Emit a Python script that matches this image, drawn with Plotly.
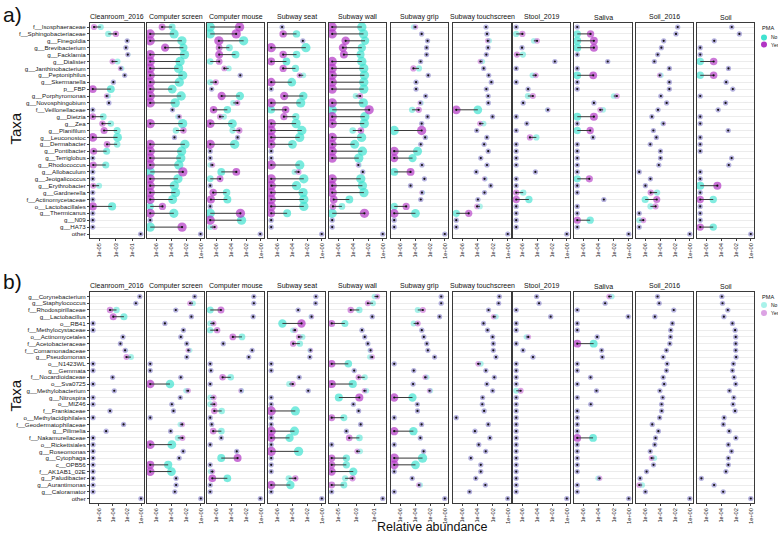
import plotly.graph_objects as go

# ---------------- data (log10 relative abundance) ----------------
FACETS = ["Cleanroom_2016", "Computer screen", "Computer mouse", "Subway seat", "Subway wall",
          "Subway grip", "Subway touchscreen", "Stool_2019", "Saliva", "Soil_2016", "Soil"]

TAXA_A = ["f__Isosphaeraceae", "f__Sphingobacteriaceae", "g__Finegoldia", "g__Brevibacterium",
          "g__Facklamia", "g__Dialister", "g__Janthinobacterium", "g__Peptoniphilus", "g__Skermanella",
          "p__FBP", "g__Porphyromonas", "g__Novosphingobium", "f__Veillonellaceae", "g__Dietzia",
          "g__Zea", "g__Planifilum", "g__Leuconostoc", "g__Dermabacter", "g__Pontibacter",
          "g__Terriglobus", "g__Rhodococcus", "g__Allobaculum", "g__Jeotgalicoccus", "g__Erythrobacter",
          "g__Gardnerella", "f__Actinomycetaceae", "o__Lactobacillales", "g__Thermicanus", "g__N09",
          "g__HA73", "other"]

TAXA_B = ["g__Corynebacterium", "g__Staphylococcus", "f__Rhodospirillaceae", "g__Lactobacillus",
          "o__RB41", "f__Methylocystaceae", "o__Actinomycetales", "f__Acetobacteraceae",
          "f__Comamonadaceae", "g__Pseudomonas", "o__N1423WL", "g__Gemmata", "f__Nocardioidaceae",
          "o__Sva0725", "g__Methylobacterium", "g__Nitrospira", "o__MIZ46", "f__Frankiaceae",
          "o__Methylacidiphilales", "f__Geodermatophilaceae", "g__Pilimelia", "f__Nakamurellaceae",
          "o__Rickettsiales", "g__Roseomonas", "g__Cytophaga", "c__OPB56", "f__AK1AB1_02E",
          "g__Paludibacter", "g__Aurantimonas", "g__Caloramator", "other"]

TICKS_STD = ["1e-06", "1e-04", "1e-02", "1e+00"]
TICKS_ODD = ["1e-05", "1e-03", "1e-01"]

# ---- panel a ----
a_cleanroom_no = [-4.8, -3.9, -1.65, -1.8, -1.55, -2.8, -2.3, -1.95, -3.3, -3.6, -3.9, -3.83, -5.75, -4.5, -3.6, -2.85, -2.8, -2.85, -4.1, -5.75, -4.2, -5.75, -5.75, -5.0, -5.75, -5.75, -3.45, -5.75, -5.75, -5.75, -0.05]
a_cleanroom_yes = [-5.6, -3.0, -1.65, -1.8, -1.58, -3.4, -2.45, -1.95, -3.3, -5.75, -4.1, -3.83, -5.75, -5.75, -4.6, -4.4, -5.75, -4.05, -5.65, -5.75, -5.7, -5.75, -5.75, -5.7, -5.75, -5.75, -5.75, -5.75, -5.75, -5.75, -0.05]
a_cscreen_no = [-3.86, -3.6, -2.55, -2.35, -2.2, -2.8, -3.0, -2.45, -2.9, -3.85, -2.65, -3.45, -3.82, -3.1, -2.45, -3.35, -3.55, -2.15, -2.59, -2.7, -2.97, -6.8, -3.08, -3.57, -3.41, -3.79, -6.8, -3.63, -6.8, -6.8, -0.05]
a_cscreen_yes = [-5.21, -6.8, -6.8, -4.8, -6.8, -6.8, -6.8, -6.8, -6.8, -6.8, -6.8, -6.8, -3.82, -2.9, -6.8, -2.35, -3.55, -6.8, -6.8, -6.8, -6.8, -2.43, -6.8, -6.8, -6.8, -6.8, -5.16, -6.8, -6.8, -2.53, -0.05]
a_cmouse_no = [-6.8, -6.8, -2.32, -4.23, -3.41, -6.8, -4.32, -2.77, -6.8, -6.6, -2.82, -3.72, -4.5, -4.95, -3.83, -3.8, -3.13, -3.52, -6.8, -6.8, -6.8, -5.32, -6.8, -6.8, -4.6, -4.5, -6.8, -6.8, -2.6, -6.8, -0.1]
a_cmouse_yes = [-2.86, -3.32, -5.64, -5.6, -5.6, -5.6, -4.91, -2.77, -6.05, -6.6, -5.27, -3.15, -6.35, -5.5, -6.8, -2.9, -3.13, -6.8, -6.8, -6.8, -6.5, -3.3, -5.48, -6.8, -6.4, -6.7, -6.8, -2.75, -6.8, -6.2, -0.1]
a_sseat_no = [-5.34, -3.41, -2.56, -2.15, -3.4, -4.76, -3.55, -2.5, -4.04, -6.8, -2.5, -2.85, -6.8, -3.5, -3.46, -2.7, -2.98, -3.95, -6.8, -6.8, -2.97, -3.68, -2.43, -3.41, -2.53, -2.43, -2.43, -4.66, -6.8, -6.8, -0.03]
a_sseat_yes = [-5.34, -5.2, -2.56, -6.8, -5.2, -6.8, -5.2, -3.0, -6.8, -6.8, -5.06, -6.8, -4.87, -5.1, -6.8, -6.8, -6.8, -6.8, -6.8, -6.8, -6.8, -3.13, -6.8, -6.8, -6.8, -6.8, -6.8, -6.8, -6.8, -6.8, -0.03]
a_swall_no = [-2.83, -2.6, -2.4, -2.83, -3.0, -2.83, -2.57, -2.48, -2.57, -2.57, -3.65, -2.63, -6.8, -2.43, -2.5, -4.05, -2.86, -3.79, -2.75, -3.24, -3.2, -2.7, -2.97, -2.75, -2.55, -4.5, -5.5, -6.8, -6.8, -6.8, -0.03]
a_swall_yes = [-6.8, -6.8, -5.0, -5.36, -5.23, -6.8, -6.8, -6.8, -6.8, -6.8, -3.05, -6.8, -1.85, -6.8, -6.8, -2.95, -6.8, -6.8, -6.8, -6.8, -3.3, -2.7, -6.8, -6.8, -6.8, -6.6, -6.7, -2.48, -6.8, -6.8, -0.03]
a_sgrip_no = [-4.2, -3.12, -2.33, -2.46, -2.46, -3.26, -3.48, -2.24, -3.87, -3.87, -2.59, -3.2, -4.4, -2.33, -3.12, -6.8, -2.6, -3.24, -3.68, -4.34, -3.08, -6.8, -2.75, -4.61, -3.0, -3.24, -6.8, -3.95, -6.8, -6.8, -0.02]
a_sgrip_yes = [-3.95, -3.12, -2.33, -2.46, -2.46, -3.26, -4.23, -2.24, -3.87, -3.87, -2.59, -3.32, -3.52, -2.33, -3.12, -3.12, -2.65, -3.24, -6.8, -6.8, -3.08, -4.61, -2.75, -4.61, -3.08, -3.24, -5.2, -6.8, -6.8, -6.8, -0.02]
a_stouch_no = [-2.88, -2.75, -2.45, -2.62, -2.84, -3.37, -3.19, -2.53, -2.18, -2.84, -2.6, -2.58, -3.96, -2.02, -3.2, -4.1, -2.77, -3.13, -2.59, -3.57, -2.75, -4.17, -3.0, -2.26, -3.08, -3.95, -3.68, -6.8, -6.8, -6.8, -0.02]
a_stouch_yes = [-2.88, -2.75, -2.66, -2.62, -2.84, -3.63, -3.19, -2.53, -2.18, -2.84, -2.6, -2.58, -6.8, -2.02, -3.67, -4.1, -2.77, -3.13, -2.59, -3.57, -2.75, -4.17, -3.08, -2.26, -3.08, -3.95, -4.06, -5.16, -6.8, -6.8, -0.02]
a_stool_no = [-6.8, -6.8, -4.44, -6.02, -5.9, -1.62, -6.8, -4.62, -6.8, -5.21, -5.24, -5.87, -2.6, -6.8, -5.38, -6.8, -4.1, -6.8, -6.8, -6.8, -6.8, -4.23, -6.8, -6.8, -5.86, -5.1, -6.8, -6.8, -6.8, -6.8, -0.02]
a_stool_yes = [-6.8, -5.97, -4.0, -6.02, -6.7, -1.62, -6.8, -4.18, -6.8, -5.21, -4.57, -5.87, -2.55, -6.8, -5.38, -6.8, -4.96, -6.8, -6.8, -6.8, -6.8, -4.23, -6.8, -6.8, -6.8, -6.8, -6.8, -6.8, -6.8, -6.8, -0.02]
a_saliva_no = [-6.8, -6.8, -6.8, -6.8, -6.8, -2.79, -6.8, -6.8, -6.8, -6.8, -2.0, -4.61, -3.39, -6.8, -6.8, -6.8, -4.73, -6.8, -6.8, -6.8, -6.8, -6.8, -6.8, -6.8, -6.8, -3.3, -6.8, -6.8, -5.1, -6.8, -0.03]
a_saliva_yes = [-6.8, -5.05, -4.61, -4.61, -6.8, -2.79, -6.8, -4.7, -6.8, -6.8, -1.58, -4.61, -3.78, -4.61, -6.8, -5.1, -4.73, -6.8, -6.8, -6.8, -6.8, -6.8, -5.21, -6.8, -6.8, -3.3, -6.8, -6.8, -6.8, -6.8, -0.03]
a_soil16_no = [-1.64, -1.87, -3.52, -3.83, -4.32, -4.77, -2.76, -3.88, -2.76, -2.76, -3.9, -3.12, -4.28, -5.1, -3.62, -4.9, -4.5, -5.32, -3.95, -3.95, -4.17, -6.8, -5.3, -5.97, -4.4, -6.0, -5.3, -6.8, -6.8, -6.8, -0.02]
a_soil16_yes = [-1.64, -1.87, -3.52, -3.83, -4.32, -4.77, -2.76, -4.06, -2.76, -2.76, -3.9, -3.12, -4.28, -5.1, -3.55, -4.9, -4.5, -5.32, -3.95, -3.95, -4.17, -6.8, -5.3, -5.97, -5.26, -4.45, -4.6, -6.8, -6.25, -6.8, -0.02]
a_soil_no = [-2.57, -1.55, -4.92, -6.8, -6.8, -6.8, -3.01, -6.8, -3.32, -2.43, -6.8, -3.4, -4.4, -6.8, -6.8, -3.05, -6.8, -6.8, -6.8, -2.59, -2.97, -6.8, -6.8, -6.8, -6.8, -5.05, -6.8, -6.8, -6.8, -5.05, -0.02]
a_soil_yes = [-2.57, -1.55, -4.92, -6.8, -6.8, -5.0, -3.01, -5.0, -3.32, -2.43, -6.8, -3.4, -4.4, -6.8, -6.8, -3.05, -6.8, -6.8, -6.8, -2.59, -2.97, -6.8, -6.8, -4.5, -6.8, -6.8, -6.8, -6.8, -6.8, -6.8, -0.02]

# ---- panel b ----
b_cleanroom_no = [-0.19, -0.74, -3.48, -2.43, -6.8, -6.8, -2.57, -2.93, -2.2, -1.43, -6.8, -6.8, -4.03, -6.8, -3.8, -6.8, -6.8, -4.4, -6.8, -2.48, -4.95, -6.8, -6.8, -6.8, -6.8, -6.8, -6.8, -6.8, -6.8, -6.8, -0.02]
b_cleanroom_yes = [-0.19, -0.74, -4.4, -3.94, -6.8, -6.8, -2.57, -2.93, -2.27, -2.07, -6.8, -6.8, -4.03, -6.8, -3.8, -6.8, -6.8, -4.4, -6.8, -2.48, -4.95, -6.8, -6.8, -6.8, -6.8, -6.8, -6.8, -6.8, -6.8, -6.8, -0.02]
b_cscreen_no = [-0.84, -1.06, -3.37, -1.28, -4.83, -2.35, -2.7, -1.9, -1.5, -1.9, -6.8, -6.8, -2.7, -4.15, -2.0, -2.77, -3.9, -3.68, -6.8, -2.77, -4.06, -3.1, -3.9, -2.38, -2.92, -4.39, -3.95, -3.33, -3.33, -3.5, -0.02]
b_cscreen_yes = [-0.84, -1.46, -3.37, -1.28, -4.83, -2.35, -2.7, -1.9, -1.7, -1.9, -6.8, -6.8, -2.7, -6.8, -1.72, -2.77, -3.9, -3.68, -6.8, -2.5, -4.06, -2.48, -6.8, -2.38, -2.92, -6.8, -6.8, -3.33, -3.33, -3.5, -0.02]
b_cmouse_no = [-0.95, -0.95, -6.8, -1.04, -6.8, -6.8, -2.54, -5.05, -1.18, -1.63, -6.8, -6.7, -4.05, -6.8, -2.6, -6.8, -6.8, -5.26, -6.8, -6.6, -5.3, -5.32, -6.8, -3.24, -5.32, -6.8, -6.75, -4.5, -6.8, -6.8, -0.08]
b_cmouse_yes = [-0.95, -0.95, -5.36, -1.04, -6.35, -5.87, -3.77, -5.05, -1.18, -1.63, -6.8, -6.7, -5.14, -6.8, -2.68, -6.33, -6.25, -6.25, -6.8, -6.6, -6.4, -5.32, -6.8, -3.24, -3.13, -6.8, -6.5, -6.52, -6.8, -6.8, -0.08]
b_sseat_no = [-0.81, -0.85, -3.19, -1.45, -5.3, -3.9, -2.6, -2.96, -1.6, -1.62, -6.8, -6.8, -3.05, -4.4, -1.84, -6.8, -6.8, -3.57, -6.8, -6.8, -3.68, -4.34, -6.8, -3.13, -6.8, -6.8, -6.8, -4.45, -4.23, -6.8, -0.02]
b_sseat_yes = [-0.81, -0.85, -3.19, -1.39, -2.74, -3.6, -3.1, -3.86, -1.53, -1.62, -6.8, -6.8, -3.05, -3.9, -1.84, -6.8, -6.8, -6.8, -6.8, -6.8, -6.8, -6.8, -6.8, -6.8, -6.8, -6.8, -6.8, -3.57, -6.8, -6.8, -0.02]
b_swall_no = [-0.95, -1.12, -2.66, -1.2, -4.29, -2.36, -2.05, -1.7, -1.45, -1.47, -3.9, -3.24, -2.05, -3.4, -1.85, -4.97, -3.33, -2.74, -4.4, -2.51, -4.12, -2.65, -5.78, -2.56, -4.12, -4.12, -3.34, -4.26, -4.4, -5.78, -0.02]
b_swall_yes = [-0.62, -1.7, -3.63, -1.2, -5.78, -2.36, -2.05, -1.7, -1.39, -1.2, -5.78, -3.24, -2.74, -5.78, -2.09, -2.66, -3.33, -2.74, -5.78, -2.51, -4.12, -3.8, -5.78, -2.9, -5.78, -5.78, -5.78, -3.43, -5.78, -5.78, -0.02]
b_sgrip_no = [-0.5, -0.5, -3.64, -0.72, -4.2, -3.1, -2.83, -2.43, -2.29, -1.39, -6.8, -4.18, -2.43, -4.27, -1.93, -4.35, -3.7, -3.68, -6.8, -3.13, -4.23, -3.3, -6.8, -2.86, -3.0, -3.95, -6.8, -4.39, -3.3, -6.8, -0.02]
b_sgrip_yes = [-0.5, -0.5, -2.96, -0.72, -3.64, -3.1, -2.83, -2.43, -2.29, -1.39, -6.8, -4.18, -2.65, -4.27, -2.07, -6.8, -3.7, -3.68, -6.8, -3.13, -6.8, -3.3, -6.8, -2.86, -6.8, -6.8, -6.8, -4.39, -3.5, -6.8, -0.02]
b_stouch_no = [-1.13, -1.22, -2.55, -1.57, -3.21, -2.68, -2.01, -1.92, -1.92, -1.57, -3.56, -2.9, -1.79, -2.77, -2.01, -3.33, -3.37, -3.13, -6.8, -2.59, -4.34, -2.37, -3.84, -2.92, -4.88, -3.57, -3.57, -4.23, -2.97, -5.05, -0.02]
b_stouch_yes = [-1.13, -1.22, -2.55, -1.88, -3.21, -2.68, -2.01, -1.92, -1.92, -1.57, -3.92, -2.9, -1.79, -2.77, -2.01, -3.33, -3.37, -3.13, -6.8, -2.59, -4.34, -2.37, -3.84, -2.92, -4.88, -3.57, -3.57, -4.23, -2.97, -5.05, -0.02]
b_stool_no = [-4.06, -3.74, -6.8, -2.18, -6.8, -6.8, -5.44, -6.8, -5.89, -4.55, -6.8, -6.8, -6.8, -6.8, -6.8, -6.8, -6.8, -6.8, -6.8, -6.8, -6.8, -6.8, -6.8, -6.8, -6.8, -6.8, -6.8, -6.8, -6.8, -6.8, -0.02]
b_stool_yes = [-4.06, -3.74, -6.8, -2.18, -6.8, -6.8, -5.17, -6.8, -5.89, -4.55, -6.8, -6.8, -6.8, -6.8, -6.2, -6.8, -6.8, -6.8, -6.8, -6.8, -6.8, -6.8, -6.8, -6.8, -6.8, -6.8, -6.8, -6.8, -6.8, -6.8, -0.02]
b_saliva_no = [-2.25, -3.13, -6.8, -0.09, -6.8, -6.8, -4.18, -4.64, -3.59, -3.5, -6.8, -6.8, -5.05, -6.8, -4.27, -6.8, -5.02, -6.8, -6.8, -6.8, -6.8, -4.72, -6.8, -6.8, -6.8, -6.8, -6.8, -4.06, -6.8, -6.8, -0.02]
b_saliva_yes = [-2.6, -3.13, -6.8, -0.09, -6.8, -6.8, -4.18, -6.8, -3.59, -3.5, -6.8, -6.8, -5.05, -6.8, -4.27, -6.8, -5.02, -6.8, -6.8, -6.8, -6.8, -6.8, -6.8, -6.8, -6.8, -6.8, -6.8, -3.85, -6.8, -6.8, -0.02]
b_soil16_no = [-4.34, -4.12, -2.17, -4.7, -2.35, -2.57, -2.61, -2.7, -3.15, -3.59, -3.06, -3.15, -3.59, -3.46, -4.03, -3.65, -3.8, -3.79, -4.06, -5.05, -4.23, -4.61, -4.72, -5.32, -4.77, -4.88, -5.81, -6.68, -6.4, -5.97, -0.02]
b_soil16_yes = [-4.34, -4.12, -2.17, -4.7, -2.35, -2.57, -2.61, -2.7, -3.15, -3.59, -3.06, -3.15, -3.59, -3.46, -4.03, -3.65, -3.8, -3.79, -4.06, -5.05, -4.23, -4.61, -4.72, -5.32, -5.15, -4.88, -5.81, -6.68, -6.8, -5.97, -0.02]
b_soil_no = [-3.9, -3.81, -3.1, -3.63, -2.48, -2.12, -2.04, -2.04, -2.04, -1.99, -2.35, -2.48, -2.26, -2.04, -2.88, -2.3, -2.4, -2.13, -3.6, -3.7, -2.92, -2.02, -3.03, -2.6, -3.03, -3.03, -3.35, -6.64, -4.94, -3.72, -0.02]
b_soil_yes = [-3.9, -3.81, -3.1, -3.63, -2.48, -2.12, -2.04, -2.04, -2.04, -1.99, -2.35, -2.48, -2.26, -2.04, -2.88, -2.3, -2.4, -2.13, -3.6, -3.7, -2.92, -2.02, -3.03, -2.6, -3.03, -3.03, -3.35, -6.64, -4.94, -3.72, -0.02]

A_NO = [a_cleanroom_no, a_cscreen_no, a_cmouse_no, a_sseat_no, a_swall_no, a_sgrip_no,
        a_stouch_no, a_stool_no, a_saliva_no, a_soil16_no, a_soil_no]
A_YES = [a_cleanroom_yes, a_cscreen_yes, a_cmouse_yes, a_sseat_yes, a_swall_yes, a_sgrip_yes,
         a_stouch_yes, a_stool_yes, a_saliva_yes, a_soil16_yes, a_soil_yes]
B_NO = [b_cleanroom_no, b_cscreen_no, b_cmouse_no, b_sseat_no, b_swall_no, b_sgrip_no,
        b_stouch_no, b_stool_no, b_saliva_no, b_soil16_no, b_soil_no]
B_YES = [b_cleanroom_yes, b_cscreen_yes, b_cmouse_yes, b_sseat_yes, b_swall_yes, b_sgrip_yes,
         b_stouch_yes, b_stool_yes, b_saliva_yes, b_soil16_yes, b_soil_yes]

for grp in (A_NO, A_YES, B_NO, B_YES):
    for lst in grp:
        assert len(lst) == 31, len(lst)

# ---------------- layout / style ----------------
W, H = 778, 537
FONT = "Liberation Sans, Arial, sans-serif"
NO_C = (64, 226, 208)
YES_C = (178, 52, 196)


def px(x):
    return x / W


def py(y):
    return 1 - y / H


LEFTS = [90, 147, 207, 268, 329, 391, 453, 513, 574, 636, 697]
WIDTHS = [54, 57, 57, 57, 57, 57, 58, 57, 58, 57, 57]
PANELS = [
    dict(top=23, bottom=238, yr=[30.58, -0.58], taxa=TAXA_A, no=A_NO, yes=A_YES, odd={0}, title_y=17),
    dict(top=292, bottom=503, yr=[30.67, -0.67], taxa=TAXA_B, no=B_NO, yes=B_YES, odd={4}, title_y=286),
]


def rgba(c, a):
    return "rgba(%d,%d,%d,%.3f)" % (c[0], c[1], c[2], a)


fig = go.Figure()
layout = dict(
    width=W, height=H, margin=dict(l=0, r=0, t=0, b=0),
    paper_bgcolor="white", plot_bgcolor="white", showlegend=False,
    font=dict(family=FONT, color="#111"),
)
annotations = []
shapes = []

for p, P in enumerate(PANELS):
    for k in range(11):
        n = p * 11 + k + 1
        xr = "x" if n == 1 else "x%d" % n
        yr_ = "y" if n == 1 else "y%d" % n
        xa = "xaxis" if n == 1 else "xaxis%d" % n
        ya = "yaxis" if n == 1 else "yaxis%d" % n
        L, w = LEFTS[k], WIDTHS[k]
        odd = k in P["odd"]
        if odd:
            rng = [-6.08, 0.35]
            tv = [1e-5, 1e-3, 1e-1]
            tt = TICKS_ODD
        else:
            rng = [-7.23, 0.41]
            tv = [1e-6, 1e-4, 1e-2, 1]
            tt = TICKS_STD
        layout[xa] = dict(
            domain=[px(L), px(L + w)], anchor=yr_, type="log", range=rng,
            tickmode="array", tickvals=tv, ticktext=tt, tickangle=-90,
            tickfont=dict(size=5.6, family=FONT, color="#222"),
            ticks="outside", ticklen=2, tickcolor="#444", tickwidth=0.6,
            showline=True, mirror=True, linecolor="#3a3a3a", linewidth=1,
            showgrid=False, zeroline=False,
        )
        layout[ya] = dict(
            domain=[py(P["bottom"]), py(P["top"])], anchor=xr, range=P["yr"],
            tickmode="array", tickvals=list(range(31)),
            ticktext=P["taxa"], showticklabels=(k == 0),
            tickfont=dict(size=6.2, family=FONT, color="#222"),
            ticks="outside" if k == 0 else "", ticklen=2, tickcolor="#444", tickwidth=0.6,
            showgrid=True, gridcolor="#ececec", gridwidth=0.6,
            showline=True, mirror=True, linecolor="#3a3a3a", linewidth=1, zeroline=False,
        )

        no = P["no"][k]
        yes = P["yes"][k]
        ys = list(range(31))
        diffs = [abs(a - b) for a, b in zip(no, yes)]
        sizes = [5.2 + 1.25 * min(d, 3.3) for d in diffs]
        alph = [0.5 + 0.5 * min(d / 2.0, 1.0) for d in diffs]
        xno = [10 ** v for v in no]
        xyes = [10 ** v for v in yes]

        fig.add_trace(go.Scatter(
            x=xno, y=ys, mode="markers", xaxis=xr, yaxis=yr_, hoverinfo="skip",
            marker=dict(size=sizes, color=[rgba(NO_C, a) for a in alph], line=dict(width=0)),
        ))
        fig.add_trace(go.Scatter(
            x=xyes, y=ys, mode="markers", xaxis=xr, yaxis=yr_, hoverinfo="skip",
            marker=dict(size=sizes, color=[rgba(YES_C, a) for a in alph], line=dict(width=0)),
        ))
        lx, ly = [], []
        for i in range(31):
            if diffs[i] > 0.04:
                lx += [xno[i], xyes[i], None]
                ly += [i, i, None]
        fig.add_trace(go.Scatter(
            x=lx, y=ly, mode="lines", xaxis=xr, yaxis=yr_, hoverinfo="skip",
            line=dict(color="#3c3c3c", width=1),
        ))
        fig.add_trace(go.Scatter(
            x=xyes, y=ys, mode="markers", xaxis=xr, yaxis=yr_, hoverinfo="skip",
            marker=dict(size=2.2, color="#111", line=dict(width=0)),
        ))

        annotations.append(dict(
            text=FACETS[k], x=px(L + w / 2), y=py(P["title_y"]), xref="paper", yref="paper",
            showarrow=False, xanchor="center", yanchor="middle",
            font=dict(size=7.0, family=FONT, color="#111"),
        ))

    annotations.append(dict(
        text="Taxa", x=px(15), y=py((P["top"] + P["bottom"]) / 2 - 2), xref="paper", yref="paper",
        showarrow=False, textangle=-90, xanchor="center", yanchor="middle",
        font=dict(size=15, family=FONT, color="#111"),
    ))

annotations.append(dict(text="a)", x=px(1), y=py(1), xref="paper", yref="paper", showarrow=False,
                        xanchor="left", yanchor="top", font=dict(size=21, family=FONT, color="#111")))
annotations.append(dict(text="b)", x=px(1), y=py(268), xref="paper", yref="paper", showarrow=False,
                        xanchor="left", yanchor="top", font=dict(size=21, family=FONT, color="#111")))
annotations.append(dict(text="Relative abundance", x=px(432), y=py(527), xref="paper", yref="paper",
                        showarrow=False, xanchor="center", yanchor="middle",
                        font=dict(size=12.5, family=FONT, color="#111")))

# manual legends
for (ytitle, yno, yyes, alpha) in [(28, 37.5, 44.5, 1.0), (297, 305, 313, 0.45)]:
    annotations.append(dict(text="PMA", x=px(760), y=py(ytitle), xref="paper", yref="paper",
                            showarrow=False, xanchor="left", yanchor="middle",
                            font=dict(size=5.6, family=FONT, color="#111")))
    for yy, col, lab in [(yno, NO_C, "No"), (yyes, YES_C, "Yes")]:
        r = 3.0
        cx = 764
        shapes.append(dict(type="circle", xref="paper", yref="paper",
                           x0=px(cx - r), x1=px(cx + r), y0=py(yy + r), y1=py(yy - r),
                           fillcolor=rgba(col, alpha), line=dict(width=0)))
        annotations.append(dict(text=lab, x=px(768.5), y=py(yy), xref="paper", yref="paper",
                                showarrow=False, xanchor="left", yanchor="middle",
                                font=dict(size=5, family=FONT, color="#111")))

layout["annotations"] = annotations
layout["shapes"] = shapes
fig.update_layout(**layout)
fig.write_html("out.html", config={"displayModeBar": False},
               post_script="document.body.style.margin='0px';document.body.style.padding='0px';")
